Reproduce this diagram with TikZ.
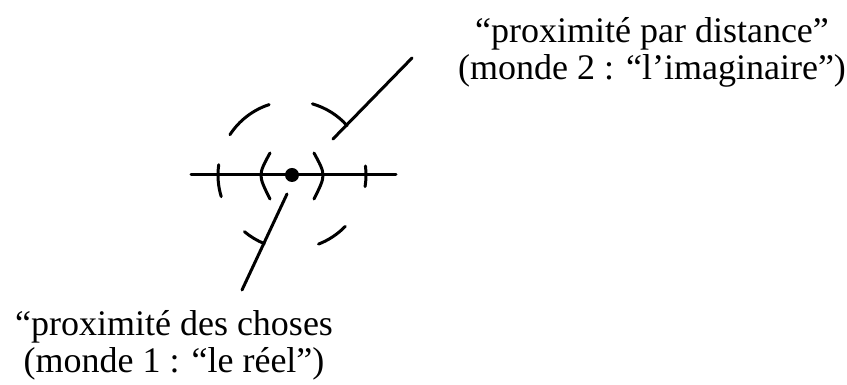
\documentclass[tikz,border=0pt]{standalone}
\usepackage{fontspec}
\setmainfont{Liberation Serif}
\tikzset{label text/.style={font=\fontsize{36}{37}\selectfont, align=center, inner sep=0pt}}

\begin{document}
\begin{tikzpicture}[x=1pt,y=1pt,line width=3pt,line cap=round]
\useasboundingbox (0,0) rectangle (847,385);
\coordinate (C) at (292,210);
\coordinate (L) at (191,210);
\coordinate (R) at (396,210);
\coordinate (P) at (333,246);
\coordinate (Q) at (412,327);
\coordinate (S) at (287,191);
\coordinate (T) at (242,95);

  \draw[color=black] (L) -- (R);
  \fill[color=black] (C) circle (7);

   \draw (270,232) .. controls (258,210) .. (270,186);
   \draw (314,232) .. controls (326,210) .. (314,186);

   \draw (C) ++(108:74) arc[start angle=108, end angle=147, radius=74];
   \draw (C) ++(42:74) arc[start angle=42, end angle=74, radius=74];
   \draw (C) ++(-69:74) arc[start angle=-69, end angle=-44, radius=74];
   \draw (C) ++(-130:74) arc[start angle=-130, end angle=-112, radius=74];
   \draw (C) ++(172:74) arc[start angle=172, end angle=197, radius=74];
   \draw (C) ++(-9:74) arc[start angle=-9, end angle=7, radius=74];

   \draw[color=black] (P) -- (Q);
   \draw[color=black] (S) -- (T);

   \node[label text] (imag) at (652,333) {“proximité par distance”\\(monde 2 : “l’imaginaire”)};
   \node[label text] (reel) at (174,40) {“proximité des choses\\(monde 1 : “le réel”)};
   \end{tikzpicture}
\end{document}
